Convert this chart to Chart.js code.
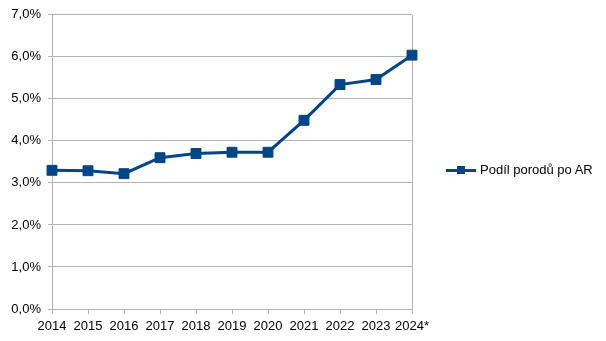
<!DOCTYPE html>
<html>
<head>
<meta charset="utf-8">
<script src="https://cdn.jsdelivr.net/npm/chart.js@4"></script>
<style>
  html, body { margin: 0; padding: 0; background: #fff; }
  #wrap { position: relative; width: 606px; height: 341px; }
  #legend {
    position: absolute; left: 446px; top: 162px;
    font: 13px "Liberation Sans", Arial, sans-serif; color: #000;
    display: flex; align-items: center; white-space: nowrap;
  }
  #legend .mark { position: relative; width: 30px; height: 12px; margin-right: 4px; }
  #legend .mark .ln { position: absolute; left: 0; right: 0; top: 5px; height: 3px; background: #004586; }
  #legend .mark .sq { position: absolute; left: 11px; top: 2px; width: 8px; height: 8px; background: #004586; }
</style>
</head>
<body>
<div id="wrap">
  <canvas id="c" width="606" height="341"></canvas>
  <div id="legend"><div class="mark"><div class="ln"></div><div class="sq"></div></div><span id="legendText"></span></div>
</div>
<script>
// Share of births after assisted reproduction, per year (percent)
const years = ["2014", "2015", "2016", "2017", "2018", "2019", "2020", "2021", "2022", "2023", "2024*"];
const shareAR = [3.30, 3.29, 3.22, 3.60, 3.70, 3.73, 3.73, 4.49, 5.34, 5.46, 6.04];
const seriesName = "Podíl porodů po AR";
const yTicks = [0, 1, 2, 3, 4, 5, 6, 7];

document.getElementById('legendText').textContent = seriesName;

const gridColor = '#b3b3b3';
const blue = '#004586';
const font = { family: '"Liberation Sans", Arial, sans-serif', size: 13 };

new Chart(document.getElementById('c'), {
  type: 'line',
  data: {
    labels: years,
    datasets: [{
      label: seriesName,
      data: shareAR,
      borderColor: blue,
      backgroundColor: blue,
      borderWidth: 3,
      pointStyle: 'rect',
      pointRadius: 7,
      pointBorderWidth: 1,
      pointBackgroundColor: blue,
      pointBorderColor: blue,
      tension: 0
    }]
  },
  options: {
    responsive: false,
    animation: false,
    layout: { padding: { top: 14, right: 194, bottom: 0, left: 0 } },
    plugins: { legend: { display: false }, tooltip: { enabled: false } },
    scales: {
      x: {
        offset: false,
        grid: {
          drawOnChartArea: true,
          // only the right-hand frame line is drawn inside the plot
          color: (ctx) => ctx.index === years.length - 1 ? gridColor : 'transparent',
          tickColor: gridColor,
          tickLength: 5
        },
        border: { color: gridColor },
        ticks: { font: font, color: '#000', maxRotation: 0, autoSkip: false, padding: 5 },
        afterFit: (s) => { s.height = 32; }
      },
      y: {
        min: 0, max: 7,
        afterBuildTicks: (s) => { s.ticks = yTicks.map(v => ({ value: v })); },
        grid: { color: gridColor, tickColor: gridColor, tickLength: 4 },
        border: { color: gridColor },
        ticks: {
          font: font, color: '#000', padding: 7,
          callback: (v) => v.toFixed(1).replace('.', ',') + '%'
        },
        afterFit: (s) => { s.width = 52; }
      }
    }
  }
});
</script>
</body>
</html>
